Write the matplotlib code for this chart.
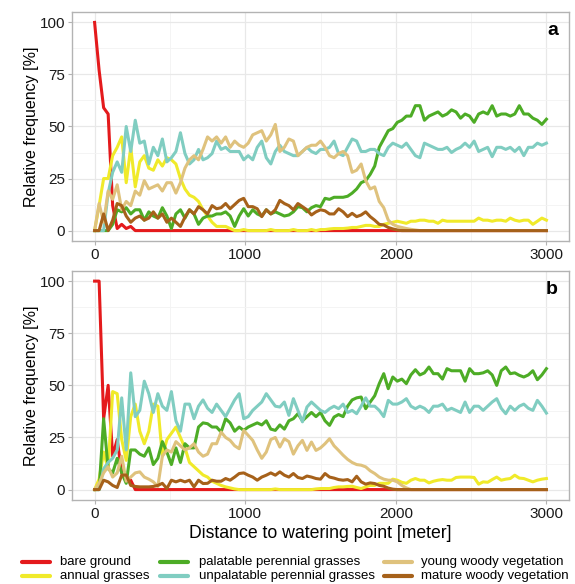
import numpy as np
import matplotlib
matplotlib.use("Agg")
import matplotlib.pyplot as plt
from matplotlib.lines import Line2D
from matplotlib.ticker import MultipleLocator

plt.rcParams['font.family'] = ['Liberation Sans', 'DejaVu Sans']

# distance classes (m), one value every 30 m
distance = np.arange(0, 3001, 30)

labels = ['bare ground', 'annual grasses', 'palatable perennial grasses',
          'unpalatable perennial grasses', 'young woody vegetation', 'mature woody vegetation']
colors = ['#E41A1C', '#F0EA2A', '#4DAC26', '#80CDC1', '#DFC27D', '#A6611A']

# ---- panel a ----
bare_a = [100, 77, 59, 56, 12, 1, 3, 1, 2, 0] + [0.0] * 91
annual_a = [0, 12, 25, 25, 36, 40, 45, 23, 40, 21,
            33, 36, 30, 29, 34, 31, 35, 34, 32, 25,
            20, 17, 16, 14, 10, 7, 4, 2, 2, 2,
            1, 0, 0, 0.5, 0, 0, 0, 0, 0, 0.5,
            0, 0, 0, 0, 0.5, 0, 0, 0, 0.5, 0,
            0.5, 0.5, 0.8, 1, 1, 1, 1.2, 1.5, 1.5, 2,
            2.5, 2.5, 2, 2, 3, 3.5, 4, 4.5, 4, 3.5,
            4.5, 4.5, 5, 5, 4.5, 4.5, 3.5, 5, 4.5, 4.5,
            4.5, 4.5, 4.5, 4.5, 4.5, 6, 5, 5, 4.5, 5,
            5, 4.5, 6, 5, 4.5, 5, 5, 3, 4.5, 6,
            5]
palat_a = [0, 0, 0, 0, 3, 10, 9, 11, 8, 10,
           10, 5, 9, 7, 6, 11, 7, 1, 8, 10,
           6, 10, 8, 3, 6, 7, 7, 8, 8, 9,
           7, 2, 7, 10.5, 7, 10, 8, 7, 10, 8,
           9, 8, 7, 7.5, 9, 11.5, 11, 9, 11, 12,
           11.5, 15.5, 15, 16, 16, 16, 16.5, 18, 20, 23,
           24, 27, 31, 40, 44, 48, 49, 52, 53, 55,
           55, 60, 60, 53, 55, 56, 57, 55, 56, 58,
           57, 54, 56, 55, 52, 56, 57, 56, 60, 55,
           56, 56, 55, 56, 60, 56, 56, 54, 53, 51,
           53.5]
unpalat_a = [0, 0, 0, 18, 28, 33, 28, 50, 38, 53,
             42, 43, 32, 40, 36, 44, 33, 35, 38, 47,
             37, 32, 34, 39, 34, 35, 37, 43, 39, 40,
             38, 38, 38, 34, 36, 34, 40, 43, 35, 32,
             38, 41, 38, 37, 36, 36, 38, 40, 38, 37,
             39, 39, 40, 43, 37, 36, 40, 44, 43, 38,
             38, 39, 39, 37, 36, 40, 42, 41, 40, 42,
             39, 36, 35, 42, 41, 40, 39, 39, 40, 37.5,
             39, 40, 42, 40, 43, 38, 39, 40, 35.5, 40,
             40, 39, 40, 38, 40, 36, 40, 40, 42, 41,
             42]
young_a = [0, 13, 4, 19, 15, 22, 10, 14, 12, 19,
           17, 24, 20, 21, 22, 19, 23, 23, 18, 23,
           30, 34, 36, 34, 39, 45, 43, 45, 42, 45,
           40, 43, 41, 40, 42, 46, 47, 48, 43, 46,
           51, 38, 40, 44, 43, 36, 38, 40, 41, 41,
           43, 40, 36, 35, 37, 38, 36, 28, 29, 32,
           24, 20, 21, 14, 11, 5, 3, 2, 1.5, 1,
           0.6, 0.3] + [0.0] * 29
mature_a = [0, 0, 8, 0, 5, 13, 12, 7, 4, 6,
            7, 5, 6, 9, 6, 8, 4, 6, 4, 2,
            6.5, 10, 8, 11.5, 10, 8, 12, 10.5, 11, 13,
            10.5, 12.5, 14.5, 15.5, 11.5, 11.5, 10.5, 6.7, 10, 8,
            10, 14.5, 13, 12, 10, 13, 11.5, 10, 7.5, 9,
            10, 9.5, 8, 8, 10.5, 9, 6.7, 8.3, 6.7, 7.5,
            9, 6.7, 5, 3, 2.7, 1.5, 0.8, 0.3] + [0.0] * 33

# ---- panel b ----
bare_b = [100, 100, 34, 50, 16, 24, 8, 5, 4.5, 0] + [0.0] * 91
annual_b = [0, 5, 18, 10, 47, 46, 24, 14, 35, 41,
            28, 22, 28, 41, 40, 16, 24, 27, 30, 25,
            20, 13, 11, 9, 7, 6, 4, 3, 2, 1.3,
            0.8, 0.3, 0, 0, 0, 0, 0, 0, 0, 0,
            0.3, 0, 0, 0, 0, 0, 0, 0, 0, 0.3,
            0.5, 0.5, 0.5, 1, 1.3, 1.3, 1.5, 1.6, 1, 0.5,
            1.3, 2, 2, 3, 3, 3, 5, 4.5, 3.5, 3,
            4.5, 5.3, 4.5, 4.5, 3.2, 4, 4.5, 4.8, 4.5, 4.5,
            5.8, 6, 6, 6, 5.8, 2.6, 3.7, 3.5, 4.8, 6,
            4.5, 5, 5.3, 6.9, 5.5, 5.3, 4.5, 3.7, 4.5, 5,
            5.3]
palat_b = [0, 0, 34, 10, 8, 15, 8, 3, 19, 19,
           17, 16, 20, 12, 15, 23, 18, 12, 20, 13,
           22, 20, 20, 30, 32, 31.6, 30, 30, 27.6, 34,
           32, 28, 30, 28.4, 30, 31, 32, 31, 33, 29,
           28.4, 31, 29, 33, 34, 36.4, 33, 35, 37, 35,
           37, 33, 30.8, 34.8, 36, 35, 40, 43, 44, 44.4,
           38.8, 42, 45, 50.8, 55.6, 48.4, 54, 52, 53, 50.8,
           55, 57.5, 55, 56, 58.8, 55.6, 55.6, 53, 58, 57,
           57, 57, 52, 58, 55.6, 55.6, 56, 57, 55, 50,
           57, 58.8, 55.6, 56, 54.8, 54, 55, 57, 52.7, 55,
           58]
unpalat_b = [0, 0, 10, 13, 15, 19, 44, 19, 56, 35,
             38, 52, 46, 37, 46, 40, 38, 47, 33, 28,
             41, 41, 34, 40, 43, 39, 37, 41, 38, 35,
             39, 43, 46, 34, 35, 38, 40, 42, 46, 43,
             40, 39.6, 42, 35.6, 43.6, 38, 32.5, 39.6, 42, 40,
             38, 37, 38.8, 40, 38.8, 41, 37, 38, 36.4, 40,
             44, 40, 40, 38, 35, 42.8, 41, 41, 42, 43.6,
             40, 38.8, 40, 39, 37, 40, 40, 41, 38, 39,
             38, 37, 42, 37, 40, 40, 38, 40, 42, 43.6,
             39, 36.4, 40, 38, 40, 41, 39, 38, 42.8, 40,
             36.7]
young_b = [0, 3, 8, 11, 6, 8, 16, 4, 6, 8,
           8.5, 6, 5, 3.7, 1.5, 16, 19, 18, 23, 21,
           19, 20, 22, 18, 16, 17, 22, 22, 27.6, 25,
           23.6, 21, 19.6, 28.4, 26, 23.6, 19, 15, 18, 24,
           25, 20.4, 24.4, 23, 17, 21, 23.6, 18.8, 22.8, 18.8,
           20, 22, 24.4, 21, 18.8, 16.5, 14.5, 13, 12, 11.7,
           10.9, 9, 7.7, 6, 5, 4.5, 4.5, 3.7, 2, 0.8] + [0.0] * 31
mature_b = [0, 0, 4.5, 3.7, 2, 1, 6.9, 7, 2, 1.5,
            1.3, 1.3, 1.3, 1.5, 2, 3, 0.5, 4.5, 3.7, 4.5,
            3.7, 4.5, 1.3, 4.5, 2.9, 3, 4.5, 4, 4, 5.3,
            4.5, 6, 7.7, 8, 6.9, 6, 4.5, 6, 6.9, 8,
            6.9, 8.5, 6.9, 6, 7.7, 5.8, 5.3, 6.5, 6, 5.3,
            5, 7.7, 6, 5.5, 4.8, 4.5, 4.8, 3.7, 6.4, 3.7,
            2.6, 3.2, 2.9, 2, 1.6, 0.7, 0.2] + [0.0] * 34

panel_a = [bare_a, annual_a, palat_a, unpalat_a, young_a, mature_a]
panel_b = [bare_b, annual_b, palat_b, unpalat_b, young_b, mature_b]


def draw_panel(ax, series, tag):
    for vals, col in zip(series, colors):
        ax.plot(distance, vals, color=col, lw=2.2, solid_joinstyle='round')
    ax.set_xlim(-150, 3150)
    ax.set_ylim(-5, 105)
    ax.xaxis.set_major_locator(MultipleLocator(1000))
    ax.xaxis.set_minor_locator(MultipleLocator(500))
    ax.yaxis.set_major_locator(MultipleLocator(25))
    ax.yaxis.set_minor_locator(MultipleLocator(12.5))
    ax.grid(which='major', color='#e8e8e8', lw=0.9)
    ax.grid(which='minor', color='#f3f3f3', lw=0.6)
    ax.set_axisbelow(True)
    for s in ax.spines.values():
        s.set_color('#b3b3b3')
        s.set_linewidth(1.0)
    ax.tick_params(which='major', length=3, color='#b3b3b3', labelsize=11,
                   labelcolor='#1a1a1a', pad=2)
    ax.tick_params(which='minor', length=0)
    ax.set_ylabel('Relative frequency [%]', fontsize=11.5)
    ax.yaxis.set_label_coords(-0.066, 0.5)
    ax.text(0.978, 0.92, tag, transform=ax.transAxes, ha='right', va='center',
            fontsize=14, fontweight='bold')


fig = plt.figure(figsize=(5.75, 5.84), dpi=100)
W, H = 575, 584
ax_a = fig.add_axes([72 / W, 1 - 241 / H, 497 / W, 229 / H])
ax_b = fig.add_axes([72 / W, 1 - 500 / H, 497 / W, 229.3 / H])
draw_panel(ax_a, panel_a, 'a')
draw_panel(ax_b, panel_b, 'b')

fig.text(320 / W, 1 - 534 / H, 'Distance to watering point [meter]',
         ha='center', va='center', fontsize=12.7)

# legend, three columns of two rows
col_x = [(22, 50, 60), (160, 188, 199), (384, 412, 421)]
row_y = [562, 576]
for i, (lab, col) in enumerate(zip(labels, colors)):
    x0, x1, xt = col_x[i // 2]
    y = 1 - row_y[i % 2] / H
    fig.add_artist(Line2D([x0 / W, x1 / W], [y, y], transform=fig.transFigure,
                          color=col, lw=3.0, solid_capstyle='round'))
    fig.text(xt / W, y, lab, ha='left', va='center', fontsize=9.5)

fig.savefig('out.png', dpi=100)
